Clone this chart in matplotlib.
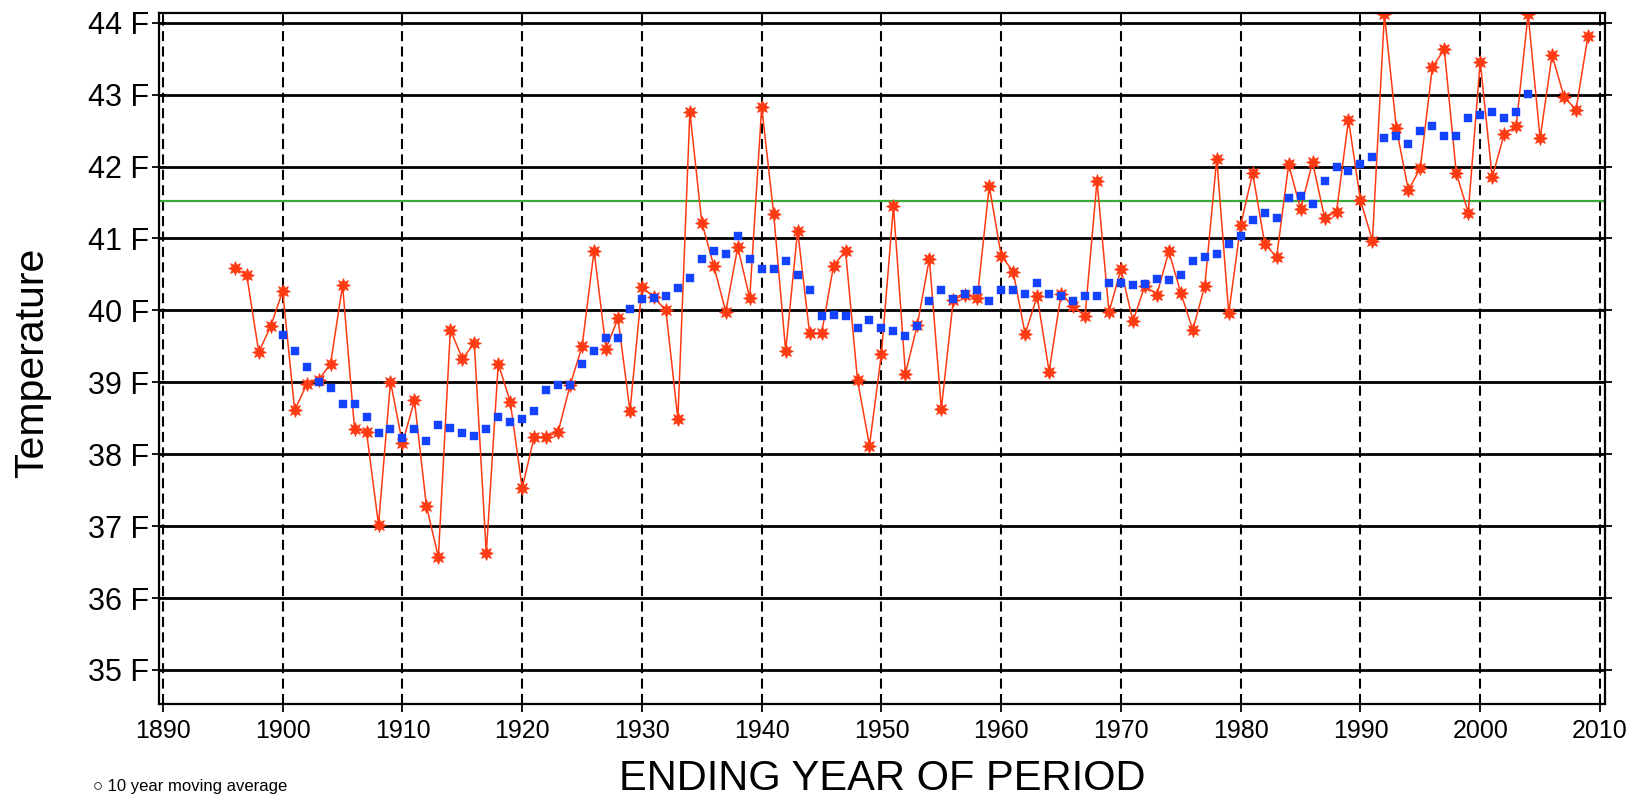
import matplotlib
matplotlib.use("Agg")
import matplotlib.pyplot as plt
import matplotlib.lines as mlines

# ---------------- data ----------------
annual_years = list(range(1896, 2010))
annual_temps = [
    40.59, 40.49, 39.42, 39.78, 40.27, 38.61, 38.97, 39.03, 39.26, 40.35,   # 1896-1905
    38.35, 38.31, 37.02, 39.01, 38.15, 38.75, 37.28, 36.57, 39.73, 39.33,   # 1906-1915
    39.54, 36.62, 39.26, 38.73, 37.53, 38.24, 38.24, 38.31, 38.96, 39.50,   # 1916-1925
    40.83, 39.47, 39.89, 38.60, 40.33, 40.18, 40.00, 38.49, 42.76, 41.22,   # 1926-1935
    40.62, 39.98, 40.88, 40.17, 42.83, 41.34, 39.44, 41.11, 39.68, 39.68,   # 1936-1945
    40.62, 40.83, 39.03, 38.12, 39.40, 41.45, 39.12, 39.80, 40.72, 38.63,   # 1946-1955
    40.15, 40.22, 40.17, 41.73, 40.76, 40.54, 39.67, 40.20, 39.15, 40.23,   # 1956-1965
    40.06, 39.92, 41.80, 39.98, 40.57, 39.85, 40.34, 40.22, 40.82, 40.24,   # 1966-1975
    39.73, 40.34, 42.11, 39.96, 41.19, 41.91, 40.93, 40.74, 42.03, 41.41,   # 1976-1985
    42.06, 41.29, 41.37, 42.65, 41.53, 40.97, 44.12, 42.53, 41.67, 41.98,   # 1986-1995
    43.38, 43.63, 41.91, 41.36, 43.46, 41.85, 42.45, 42.56, 44.12, 42.39,   # 1996-2005
    43.55, 42.97, 42.79, 43.82,                                             # 2006-2009
]
avg_years = list(range(1900, 2005))
avg_temps = [
    39.66, 39.44, 39.21, 39.00, 38.92, 38.70, 38.70, 38.52, 38.30, 38.35,   # 1900-1909
    38.23, 38.35, 38.19, 38.41, 38.37, 38.30, 38.26, 38.35, 38.52, 38.45,   # 1910-1919
    38.49, 38.60, 38.89, 38.96, 38.96, 39.25, 39.44, 39.61, 39.61, 40.02,   # 1920-1929
    40.16, 40.17, 40.20, 40.31, 40.45, 40.71, 40.83, 40.78, 41.03, 40.71,   # 1930-1939
    40.57, 40.57, 40.68, 40.49, 40.28, 39.92, 39.94, 39.92, 39.76, 39.87,   # 1940-1949
    39.76, 39.72, 39.65, 39.78, 40.13, 40.28, 40.16, 40.23, 40.28, 40.13,   # 1950-1959
    40.28, 40.28, 40.23, 40.38, 40.23, 40.20, 40.13, 40.20, 40.20, 40.38,   # 1960-1969
    40.38, 40.35, 40.37, 40.43, 40.42, 40.49, 40.68, 40.74, 40.78, 40.93,   # 1970-1979
    41.03, 41.25, 41.36, 41.29, 41.56, 41.59, 41.48, 41.80, 41.99, 41.94,   # 1980-1989
    42.03, 42.13, 42.39, 42.43, 42.32, 42.49, 42.57, 42.43, 42.43, 42.68,   # 1990-1999
    42.71, 42.76, 42.68, 42.76, 43.01,                                      # 2000-2004
]
reference_level = 41.52

x_ticks = list(range(1890, 2011, 10))
x_tick_labels = [str(v) for v in x_ticks]
y_ticks = list(range(35, 45))
y_tick_labels = [f"{v} F" for v in y_ticks]
x_label = "ENDING YEAR OF PERIOD"
y_label = "Temperature"
footer_text = "\u25cb 10 year moving average"

# ---------------- styling ----------------
RED = "#ff3a12"
BLUE = "#1443ff"
GREEN = "#3aaa3a"
SANS = ["Liberation Sans", "DejaVu Sans"]
NARROW = ["Liberation Sans Narrow", "Liberation Sans", "DejaVu Sans"]

W, H = 1630, 796
fig = plt.figure(figsize=(W / 100, H / 100), dpi=100)
ax = fig.add_axes([159 / W, 1 - 704 / H, (1605 - 159) / W, (704 - 13) / H])

ax.set_xlim(1889.67, 2010.42)
ax.set_ylim(34.527, 44.135)

# grid
ax.set_xticks(x_ticks)
ax.set_xticklabels(x_tick_labels, family=NARROW, fontsize=18)
ax.set_yticks(y_ticks)
ax.set_yticklabels(y_tick_labels, family=SANS, fontsize=22)
ax.yaxis.grid(True, color="black", linestyle="-", linewidth=2.0, zorder=0)
ax.xaxis.grid(True, color="black", linestyle=(0, (4.8, 2.6)), linewidth=1.5, zorder=0)
ax.set_axisbelow(True)

for s in ax.spines.values():
    s.set_linewidth(1.6)
    s.set_color("black")

ax.tick_params(axis="x", direction="out", length=6, width=1.3, pad=5,
               top=True, bottom=True, colors="black")
ax.tick_params(axis="y", direction="inout", length=10, width=1.3, pad=2,
               left=True, right=True, colors="black")
for t in ax.xaxis.get_major_ticks():
    t.tick2line.set_marker(mlines.TICKDOWN)
    t.tick2line.set_markersize(7)

# reference level
ax.axhline(reference_level, color=GREEN, linewidth=1.6, zorder=1)

# annual series
ax.plot(annual_years, annual_temps, color=RED, linewidth=1.1,
        marker=(8, 1, 0), markersize=10, markerfacecolor=RED,
        markeredgecolor=RED, markeredgewidth=0.6, zorder=2)

# moving average
ax.plot(avg_years, avg_temps, linestyle="none", marker="s", markersize=5.4,
        markerfacecolor=BLUE, markeredgecolor=BLUE, markeredgewidth=0.3, zorder=3)

ax.set_xlabel(x_label, family=SANS, fontsize=30)
ax.xaxis.set_label_coords(0.5, (704 - 759) / 691)
ax.set_ylabel(y_label, family=SANS, fontsize=29.5)
ax.yaxis.set_label_coords((51 - 159) / 1446, (704 - 363) / 691)

# footer legend line at the bottom-left edge, kept fully inside the figure
fig.text(93 / W, 2 / H, footer_text, family=SANS, fontsize=12,
         ha="left", va="bottom", color="black")

fig.savefig("out.png", dpi=100)
